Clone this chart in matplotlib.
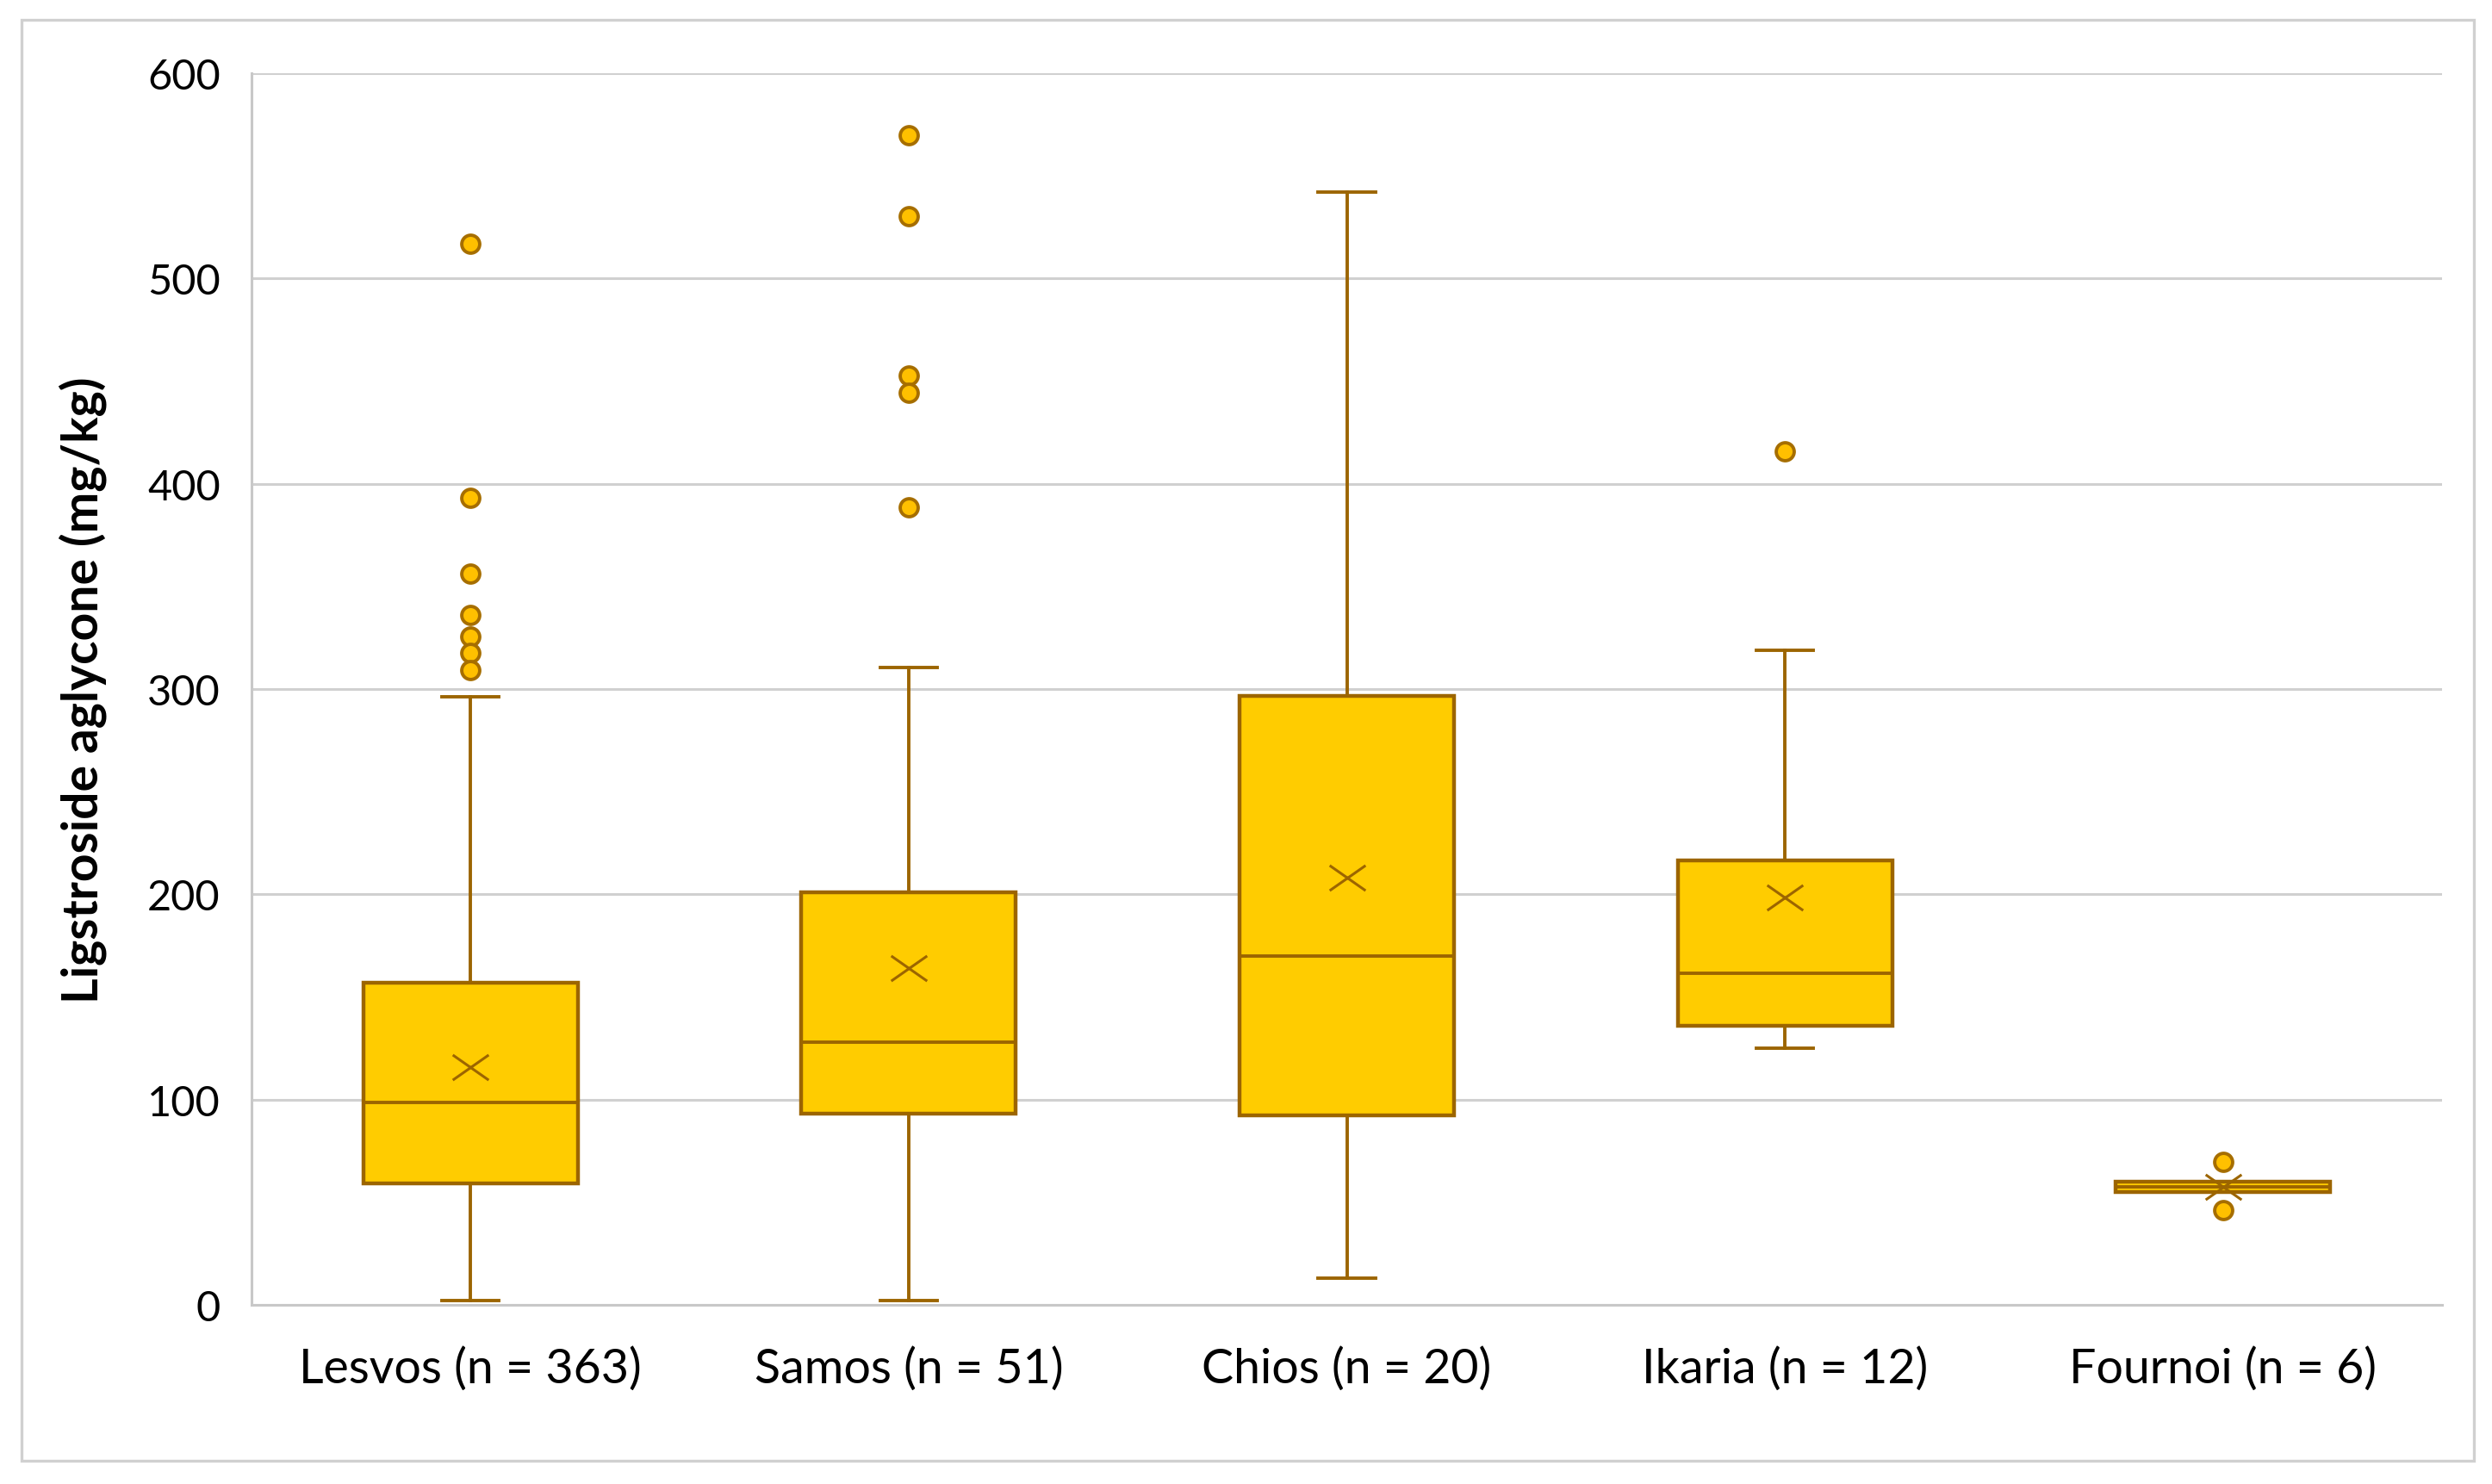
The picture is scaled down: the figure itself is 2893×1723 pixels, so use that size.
import matplotlib
matplotlib.use("Agg")
import matplotlib.pyplot as plt
from matplotlib.path import Path
from matplotlib.patches import Rectangle

categories = ["Lesvos (n = 363)", "Samos (n = 51)", "Chios (n = 20)", "Ikaria (n = 12)", "Fournoi (n = 6)"]
whisker_low = [2.3, 2.3, 13.2, 125.0, 55.0]
q1 = [59.0, 93.0, 92.4, 135.8, 55.0]
median = [98.6, 128.0, 170.0, 161.5, 57.5]
q3 = [157.0, 201.0, 296.6, 216.7, 60.0]
whisker_high = [296.3, 310.6, 542.0, 318.9, 60.0]
mean = [116.0, 164.0, 208.0, 198.5, 57.5]
outliers = [
    [516.8, 393.2, 356.3, 336.1, 325.6, 317.7, 309.3],
    [569.9, 530.2, 452.6, 444.2, 388.4],
    [],
    [415.9],
    [69.7, 46.2],
]
yticks = [0, 100, 200, 300, 400, 500, 600]

plt.rcParams['font.family'] = ['Lato', 'DejaVu Sans']

fig = plt.figure(figsize=(14.465, 8.62), dpi=200)
ax = fig.add_axes([0.1009, 0.1206, 0.8791, 0.8295])

stats = []
for i in range(len(categories)):
    stats.append(dict(whislo=whisker_low[i], q1=q1[i], med=median[i], q3=q3[i],
                      whishi=whisker_high[i], mean=mean[i], fliers=outliers[i], label=categories[i]))

edge = '#9C6500'
xmark = Path([(-1, -0.7), (1, 0.7), (-1, 0.7), (1, -0.7)],
             [Path.MOVETO, Path.LINETO, Path.MOVETO, Path.LINETO])

ax.bxp(stats, positions=range(len(categories)), widths=0.49, patch_artist=True,
       showmeans=True, showfliers=True,
       boxprops=dict(facecolor='#FFCC00', edgecolor=edge, linewidth=1.6),
       medianprops=dict(color=edge, linewidth=1.4),
       whiskerprops=dict(color=edge, linewidth=1.4),
       capprops=dict(color=edge, linewidth=1.4),
       capwidths=0.13,
       meanprops=dict(marker=xmark, markersize=15, markerfacecolor='none',
                      markeredgecolor=edge, markeredgewidth=1.1, linestyle='none'),
       flierprops=dict(marker='o', markersize=7.5, markerfacecolor='#FFC000',
                       markeredgecolor='#A66E00', markeredgewidth=1.4, linestyle='none'))

ax.set_xlim(-0.5, len(categories) - 0.5)
ax.set_ylim(0, 600)
ax.set_yticks(yticks)
ax.set_yticklabels([str(t) for t in yticks])
ax.set_xticks(range(len(categories)))
ax.set_xticklabels(categories)
ax.tick_params(axis='both', length=0, colors='#000000')
ax.tick_params(axis='y', pad=13, labelsize=17.5)
ax.tick_params(axis='x', pad=17, labelsize=20)
ax.grid(axis='y', color='#D0D0D0', linewidth=1.1)
ax.set_axisbelow(True)
for s in ['top', 'right']:
    ax.spines[s].set_visible(False)
ax.spines['left'].set_color('#C8C8C8')
ax.spines['left'].set_linewidth(1.1)
ax.spines['bottom'].set_color('#C8C8C8')
ax.spines['bottom'].set_linewidth(1.1)

ax.set_ylabel('Ligstroside aglycone (mg/kg)', fontsize=20.5, fontweight='bold', labelpad=17)

fig.patches.append(Rectangle((25 / 2893, 1 - 1697 / 1724), (2872 - 25) / 2893, (1697 - 24) / 1724,
                             transform=fig.transFigure, fill=False, edgecolor='#D0D0D0', linewidth=1.2))

fig.savefig('out.png', dpi=200, facecolor='white')
